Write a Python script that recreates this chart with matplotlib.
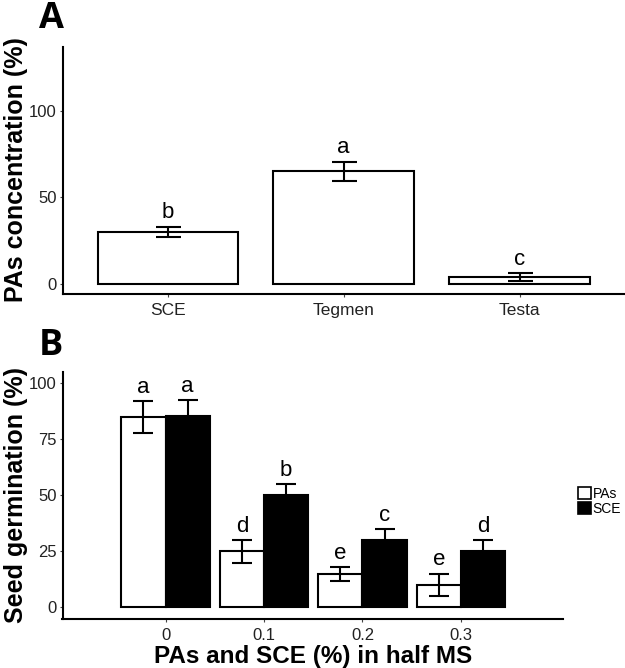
import matplotlib
matplotlib.use("Agg")
import matplotlib.pyplot as plt
from matplotlib.patches import Patch
import numpy as np

plt.rcParams['font.family'] = ['Liberation Sans', 'DejaVu Sans']

# panel A data
tissues = ['SCE', 'Tegmen', 'Testa']
pas_conc = [30, 65, 3.8]
pas_err = [3, 5.5, 2.3]
pas_letters = ['b', 'a', 'c']

# panel B data
doses = [0, 0.1, 0.2, 0.3]
dose_labels = ['0', '0.1', '0.2', '0.3']
germ_pas = [85, 25, 15, 10]
germ_pas_err = [7, 5, 3, 5]
germ_sce = [85.5, 50, 30, 25]
germ_sce_err = [7, 5, 5, 5]
letters_pas = ['a', 'd', 'e', 'e']
letters_sce = ['a', 'b', 'c', 'd']

W, H = 625, 668
fig = plt.figure(figsize=(W / 100, H / 100), dpi=100)


def style_axes(ax, xsize):
    for s in ['top', 'right']:
        ax.spines[s].set_visible(False)
    for s in ['left', 'bottom']:
        ax.spines[s].set_linewidth(1.5)
        ax.spines[s].set_color('black')
    ax.tick_params(axis='both', length=2, width=0.8, color='#444444',
                   labelcolor='#222222')
    ax.tick_params(axis='y', labelsize=12, pad=2)
    ax.tick_params(axis='x', labelsize=xsize, pad=4)


# ---- panel A ----
axA = fig.add_axes([62.5 / W, 1 - 294.3 / H, 1 - 62.5 / W, (294.3 - 46.7) / H])
xA = np.arange(len(tissues))
axA.bar(xA, pas_conc, width=0.8, color='white', edgecolor='black', linewidth=1.5, zorder=2)
axA.errorbar(xA, pas_conc, yerr=pas_err, fmt='none', ecolor='black',
             elinewidth=1.5, capsize=9, capthick=1.5, zorder=3)
for x, v, e, l in zip(xA, pas_conc, pas_err, pas_letters):
    axA.annotate(l, (x, v + e), xytext=(0, 2.5), textcoords='offset points',
                 ha='center', va='bottom', fontsize=16)
axA.set_xlim(-0.6, 2.6)
axA.set_ylim(-6, 137)
axA.set_yticks([0, 50, 100])
axA.set_xticks(xA)
axA.set_xticklabels(tissues)
style_axes(axA, 12.5)

# ---- panel B ----
axB = fig.add_axes([62.5 / W, 1 - 619.3 / H, (563 - 62.5) / W, (619.3 - 371.7) / H])
bw = 0.045
xB = np.array(doses)
axB.bar(xB - bw / 2, germ_pas, width=bw, color='white', edgecolor='black', linewidth=1.5, zorder=2)
axB.bar(xB + bw / 2, germ_sce, width=bw, color='black', edgecolor='black', linewidth=1.5, zorder=2)
axB.errorbar(xB - bw / 2, germ_pas, yerr=germ_pas_err, fmt='none', ecolor='black',
             elinewidth=1.5, capsize=7.5, capthick=1.5, zorder=3)
axB.errorbar(xB + bw / 2, germ_sce, yerr=germ_sce_err, fmt='none', ecolor='black',
             elinewidth=1.5, capsize=7.5, capthick=1.5, zorder=3)
for x, v, e, l in zip(xB - bw / 2, germ_pas, germ_pas_err, letters_pas):
    axB.annotate(l, (x, v + e), xytext=(0, 2.5), textcoords='offset points',
                 ha='center', va='bottom', fontsize=16)
for x, v, e, l in zip(xB + bw / 2, germ_sce, germ_sce_err, letters_sce):
    axB.annotate(l, (x, v + e), xytext=(0, 2.5), textcoords='offset points',
                 ha='center', va='bottom', fontsize=16)
axB.set_xlim(-0.1046, 0.4036)
axB.set_ylim(-5.3, 105.2)
axB.set_yticks([0, 25, 50, 75, 100])
axB.set_xticks(xB)
axB.set_xticklabels(dose_labels)
style_axes(axB, 12)
axB.set_xlabel('PAs and SCE (%) in half MS', fontsize=17.5, fontweight='bold', labelpad=2)

handles = [Patch(facecolor='white', edgecolor='black', linewidth=1.2, label='PAs'),
           Patch(facecolor='black', edgecolor='black', linewidth=1.2, label='SCE')]
fig.legend(handles=handles, loc='upper left', bbox_to_anchor=(578 / W, 1 - 487 / H),
           frameon=False, fontsize=10, handlelength=0.9, handleheight=1.0,
           handletextpad=0.15, labelspacing=0.05, borderpad=0, borderaxespad=0)

# axis titles and panel letters
fig.text(16 / W, 1 - 170 / H, 'PAs concentration (%)', rotation=90, ha='center',
         va='center', fontsize=18, fontweight='bold')
fig.text(16 / W, 1 - 495 / H, 'Seed germination (%)', rotation=90, ha='center',
         va='center', fontsize=18, fontweight='bold')
fig.text(51 / W, 1 - 19 / H, 'A', ha='center', va='center', fontsize=26,
         fontweight='bold', family=['Open Sans', 'DejaVu Sans'])
fig.text(51 / W, 1 - 346 / H, 'B', ha='center', va='center', fontsize=26,
         fontweight='bold', family=['Open Sans', 'DejaVu Sans'])

fig.savefig('out.png', dpi=100)
